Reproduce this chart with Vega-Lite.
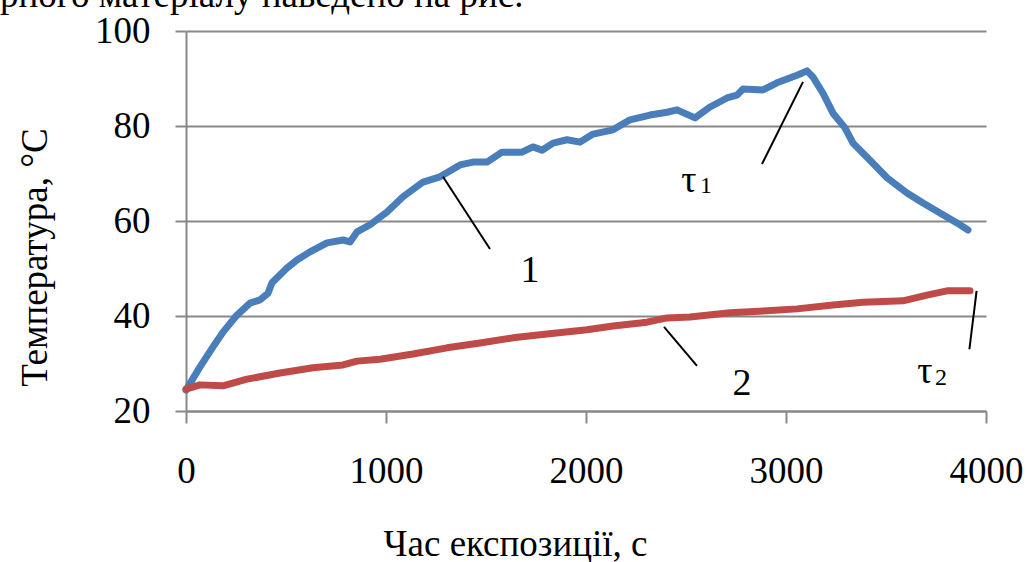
{
  "$schema": "https://vega.github.io/schema/vega-lite/v6.json",
  "width": 800,
  "height": 380,
  "autosize": {"type": "none"},
  "padding": {"left": 186, "top": 31, "right": 48, "bottom": 151},
  "background": "white",
  "config": {"view": {"stroke": null}},
  "datasets": {
    "curves": [
      {"series": "1", "t": 0, "temp": 24.4}, {"series": "1", "t": 70, "temp": 29.3}, {"series": "1", "t": 135, "temp": 33.5},
      {"series": "1", "t": 185, "temp": 36.6}, {"series": "1", "t": 255, "temp": 40.2}, {"series": "1", "t": 320, "temp": 42.7},
      {"series": "1", "t": 370, "temp": 43.4}, {"series": "1", "t": 410, "temp": 44.8}, {"series": "1", "t": 430, "temp": 47.0},
      {"series": "1", "t": 505, "temp": 50.1}, {"series": "1", "t": 555, "temp": 51.8}, {"series": "1", "t": 620, "temp": 53.5},
      {"series": "1", "t": 705, "temp": 55.4}, {"series": "1", "t": 785, "temp": 56.0}, {"series": "1", "t": 820, "temp": 55.6},
      {"series": "1", "t": 855, "temp": 57.7}, {"series": "1", "t": 920, "temp": 59.2}, {"series": "1", "t": 1005, "temp": 61.9},
      {"series": "1", "t": 1085, "temp": 65.1}, {"series": "1", "t": 1185, "temp": 68.2}, {"series": "1", "t": 1270, "temp": 69.3},
      {"series": "1", "t": 1370, "temp": 71.8}, {"series": "1", "t": 1435, "temp": 72.4}, {"series": "1", "t": 1505, "temp": 72.4},
      {"series": "1", "t": 1580, "temp": 74.5}, {"series": "1", "t": 1680, "temp": 74.5}, {"series": "1", "t": 1735, "temp": 75.6},
      {"series": "1", "t": 1780, "temp": 74.9}, {"series": "1", "t": 1835, "temp": 76.4}, {"series": "1", "t": 1905, "temp": 77.1},
      {"series": "1", "t": 1970, "temp": 76.6}, {"series": "1", "t": 2035, "temp": 78.3}, {"series": "1", "t": 2135, "temp": 79.2},
      {"series": "1", "t": 2220, "temp": 81.3}, {"series": "1", "t": 2320, "temp": 82.3}, {"series": "1", "t": 2405, "temp": 82.9},
      {"series": "1", "t": 2455, "temp": 83.4}, {"series": "1", "t": 2545, "temp": 81.7}, {"series": "1", "t": 2620, "temp": 84.0},
      {"series": "1", "t": 2705, "temp": 85.9}, {"series": "1", "t": 2755, "temp": 86.5}, {"series": "1", "t": 2785, "temp": 87.8},
      {"series": "1", "t": 2885, "temp": 87.6}, {"series": "1", "t": 2955, "temp": 89.1}, {"series": "1", "t": 3055, "temp": 90.7},
      {"series": "1", "t": 3105, "temp": 91.6}, {"series": "1", "t": 3135, "temp": 90.3}, {"series": "1", "t": 3185, "temp": 86.9},
      {"series": "1", "t": 3235, "temp": 82.7}, {"series": "1", "t": 3295, "temp": 79.6}, {"series": "1", "t": 3335, "temp": 76.4},
      {"series": "1", "t": 3420, "temp": 72.8}, {"series": "1", "t": 3505, "temp": 69.1}, {"series": "1", "t": 3605, "temp": 65.9},
      {"series": "1", "t": 3685, "temp": 63.8}, {"series": "1", "t": 3770, "temp": 61.7}, {"series": "1", "t": 3855, "temp": 59.6},
      {"series": "1", "t": 3910, "temp": 58.1},
      {"series": "2", "t": 0, "temp": 24.6}, {"series": "2", "t": 70, "temp": 25.5}, {"series": "2", "t": 185, "temp": 25.3},
      {"series": "2", "t": 305, "temp": 26.7}, {"series": "2", "t": 470, "temp": 28.0}, {"series": "2", "t": 635, "temp": 29.1},
      {"series": "2", "t": 785, "temp": 29.7}, {"series": "2", "t": 855, "temp": 30.5}, {"series": "2", "t": 970, "temp": 30.9},
      {"series": "2", "t": 1135, "temp": 32.0}, {"series": "2", "t": 1305, "temp": 33.3}, {"series": "2", "t": 1470, "temp": 34.3},
      {"series": "2", "t": 1635, "temp": 35.4}, {"series": "2", "t": 1805, "temp": 36.2}, {"series": "2", "t": 2005, "temp": 37.1},
      {"series": "2", "t": 2135, "temp": 37.9}, {"series": "2", "t": 2305, "temp": 38.7}, {"series": "2", "t": 2405, "temp": 39.6},
      {"series": "2", "t": 2520, "temp": 39.8}, {"series": "2", "t": 2720, "temp": 40.7}, {"series": "2", "t": 2905, "temp": 41.1},
      {"series": "2", "t": 3055, "temp": 41.5}, {"series": "2", "t": 3235, "temp": 42.3}, {"series": "2", "t": 3385, "temp": 42.9},
      {"series": "2", "t": 3585, "temp": 43.2}, {"series": "2", "t": 3705, "temp": 44.4}, {"series": "2", "t": 3805, "temp": 45.3},
      {"series": "2", "t": 3920, "temp": 45.3}
    ],
    "leaders": [
      {"t": 1285, "temp": 69.3, "t2": 1520, "temp2": 54.1},
      {"t": 2390, "temp": 37.7, "t2": 2555, "temp2": 29.5},
      {"t": 3085, "temp": 89.3, "t2": 2880, "temp2": 72.0},
      {"t": 3953, "temp": 45.3, "t2": 3917, "temp2": 33.0}
    ],
    "labels": [
      {"t": 1720, "temp": 47.2, "label": "1"},
      {"t": 2780, "temp": 23.4, "label": "2"},
      {"t": 2515, "temp": 66.1, "label": "τ"},
      {"t": 3695, "temp": 25.9, "label": "τ"}
    ],
    "subs": [
      {"t": 2600, "temp": 65.9, "label": "1"},
      {"t": 3775, "temp": 25.5, "label": "2"}
    ],
    "toptext": [
      {"t": -930, "temp": 105.1, "label": "рного матеріалу наведено на рис."}
    ]
  },
  "encoding": {
    "x": {
      "field": "t", "type": "quantitative",
      "scale": {"domain": [0, 4000], "nice": false, "zero": false},
      "axis": {
        "title": "Час експозиції, с",
        "values": [0, 1000, 2000, 3000, 4000],
        "format": "d",
        "grid": false,
        "domain": true, "domainColor": "#888888", "domainWidth": 2,
        "ticks": true, "tickColor": "#888888", "tickWidth": 2, "tickSize": 12,
        "labelFont": "Liberation Serif, Times New Roman, serif", "labelFontSize": 37, "labelColor": "black",
        "labelBaseline": "alphabetic", "labelPadding": 59, "labelFlush": false, "labelOverlap": false,
        "titleFont": "Liberation Serif, Times New Roman, serif", "titleFontSize": 37, "titleFontWeight": "normal", "titleColor": "black",
        "titleX": 329, "titleY": 144, "titleAlign": "center", "titleBaseline": "alphabetic", "titleAnchor": null
      }
    },
    "y": {
      "field": "temp", "type": "quantitative",
      "scale": {"domain": [20, 100], "nice": false, "zero": false},
      "axis": {
        "title": "Температура, °C",
        "values": [20, 40, 60, 80, 100],
        "grid": true, "gridColor": "#888888", "gridWidth": 2,
        "domain": true, "domainColor": "#888888", "domainWidth": 2,
        "ticks": true, "tickColor": "#888888", "tickWidth": 2, "tickSize": 11,
        "labelFont": "Liberation Serif, Times New Roman, serif", "labelFontSize": 37, "labelColor": "black",
        "labelPadding": 25, "labelFlush": false, "labelOverlap": false,
        "titleFont": "Liberation Serif, Times New Roman, serif", "titleFontSize": 37, "titleFontWeight": "normal", "titleColor": "black",
        "titleX": -140, "titleY": 226, "titleAngle": -90, "titleAlign": "center", "titleBaseline": "alphabetic", "titleAnchor": null
      }
    }
  },
  "layer": [
    {
      "data": {"name": "curves"},
      "mark": {"type": "line", "strokeWidth": 7, "strokeJoin": "round", "strokeCap": "round"},
      "encoding": {
        "color": {"field": "series", "type": "nominal", "scale": {"domain": ["1", "2"], "range": ["#4A7EBB", "#BE4B48"]}, "legend": null}
      }
    },
    {
      "data": {"name": "leaders"},
      "mark": {"type": "rule", "color": "black", "strokeWidth": 2},
      "encoding": {
        "x2": {"field": "t2"},
        "y2": {"field": "temp2"}
      }
    },
    {
      "data": {"name": "labels"},
      "mark": {"type": "text", "font": "Liberation Serif, Times New Roman, serif", "fontSize": 38, "color": "black", "align": "center", "baseline": "alphabetic"},
      "encoding": {"text": {"field": "label"}}
    },
    {
      "data": {"name": "subs"},
      "mark": {"type": "text", "font": "Liberation Serif, Times New Roman, serif", "fontSize": 24, "color": "black", "align": "center", "baseline": "alphabetic"},
      "encoding": {"text": {"field": "label"}}
    },
    {
      "data": {"name": "toptext"},
      "mark": {"type": "text", "font": "Liberation Serif, Times New Roman, serif", "fontSize": 37, "color": "black", "align": "left", "baseline": "alphabetic"},
      "encoding": {"text": {"field": "label"}}
    }
  ]
}
